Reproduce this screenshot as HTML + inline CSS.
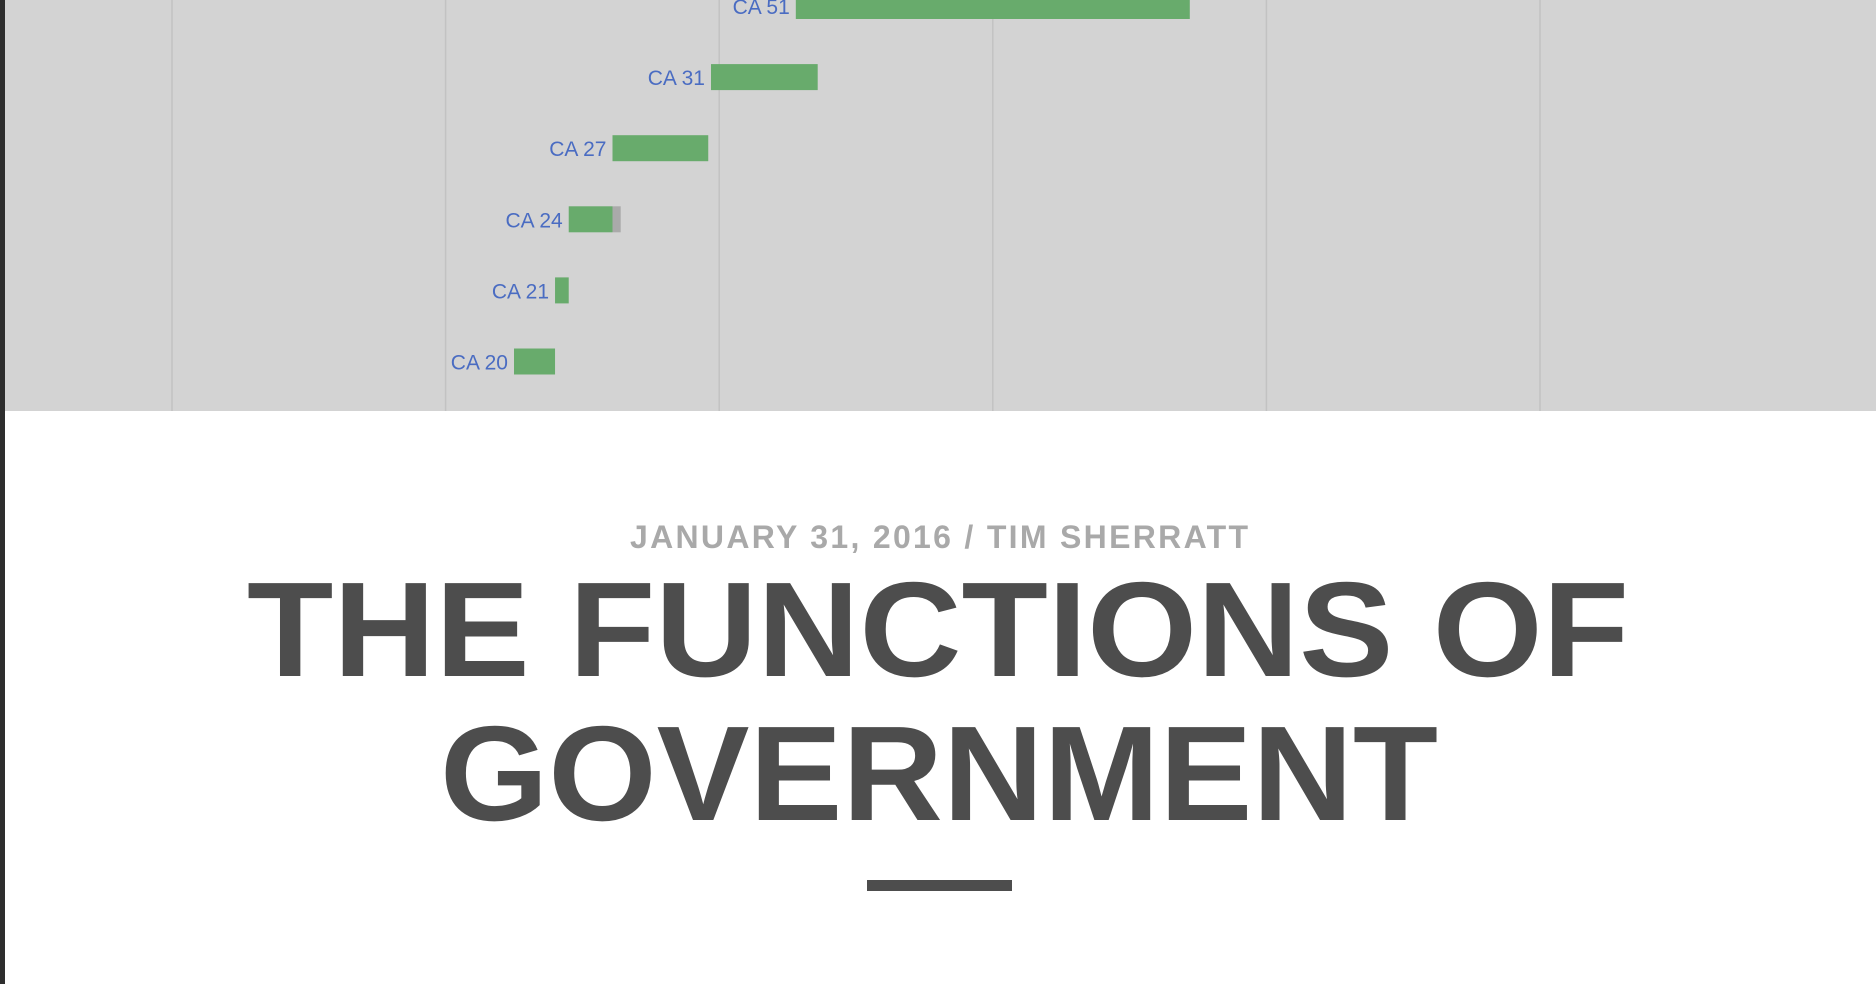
<!DOCTYPE html>
<html><head><meta charset="utf-8"><style>
html,body{margin:0;padding:0;width:1876px;height:984px;overflow:hidden;background:#fff;}
svg{display:block;}
</style></head><body>
<svg id="chart" width="1876" height="984" xmlns="http://www.w3.org/2000/svg">
  <rect x="0" y="0" width="1876" height="411" fill="#d3d3d3"/>
  <g id="grid"></g>
  <g id="bars"></g>
  <rect x="0" y="0" width="5" height="984" fill="#2e2e2e"/>
  <text x="939" y="548" font-family="Liberation Sans, sans-serif" font-weight="bold" font-size="32" fill="#a9a9a9" text-anchor="middle" textLength="618" lengthAdjust="spacing">JANUARY 31, 2016 / TIM SHERRATT</text>
  <text x="938" y="676" font-family="Liberation Sans, sans-serif" font-weight="bold" font-size="135" fill="#4d4d4d" text-anchor="middle" textLength="1382" lengthAdjust="spacingAndGlyphs">THE FUNCTIONS OF</text>
  <text x="939" y="820" font-family="Liberation Sans, sans-serif" font-weight="bold" font-size="135" fill="#4d4d4d" text-anchor="middle" textLength="998" lengthAdjust="spacingAndGlyphs">GOVERNMENT</text>
  <rect x="867" y="880" width="145" height="11" fill="#4d4d4d"/>
</svg>
<script>
const categories = ["CA 51","CA 31","CA 27","CA 24","CA 21","CA 20"];
const startValues = [228, 197, 161, 145, 140, 125];
const endValues = [372, 236, 196, 161, 145, 140];
const extraValues = [0, 0, 0, 3, 0, 0];
const gridTicks = [0, 100, 200, 300, 400, 500];

const NS = "http://www.w3.org/2000/svg";
const x = v => 172 + v * 2.736;
const y = i => 6 + i * 71.1;
const grid = document.getElementById('grid');
gridTicks.forEach(t => {
  const l = document.createElementNS(NS, 'line');
  l.setAttribute('x1', x(t)); l.setAttribute('x2', x(t));
  l.setAttribute('y1', 0); l.setAttribute('y2', 411);
  l.setAttribute('stroke', '#c2c2c2'); l.setAttribute('stroke-width', 1.5);
  
  
  grid.appendChild(l);
});
const bars = document.getElementById('bars');
categories.forEach((c, i) => {
  const cy = y(i);
  const r = document.createElementNS(NS, 'rect');
  r.setAttribute('x', x(startValues[i]));
  r.setAttribute('width', x(endValues[i]) - x(startValues[i]));
  r.setAttribute('y', cy - 13); r.setAttribute('height', 26);
  r.setAttribute('fill', '#68ab6c');
  
  
  bars.appendChild(r);
  if (extraValues[i] > 0) {
    const g = document.createElementNS(NS, 'rect');
    g.setAttribute('x', x(endValues[i]));
    g.setAttribute('width', x(endValues[i] + extraValues[i]) - x(endValues[i]));
    g.setAttribute('y', cy - 13); g.setAttribute('height', 26);
    g.setAttribute('fill', '#aaaaaa');
    
    
    bars.appendChild(g);
  }
  const t = document.createElementNS(NS, 'text');
  t.setAttribute('x', x(startValues[i]) - 6);
  t.setAttribute('y', cy + 8);
  t.setAttribute('text-anchor', 'end');
  t.setAttribute('font-family', 'Liberation Sans, sans-serif');
  t.setAttribute('font-size', '21');
  t.setAttribute('fill', '#4a6cc2');
  t.textContent = c;
  
  
  bars.appendChild(t);
});
</script>
</body></html>
